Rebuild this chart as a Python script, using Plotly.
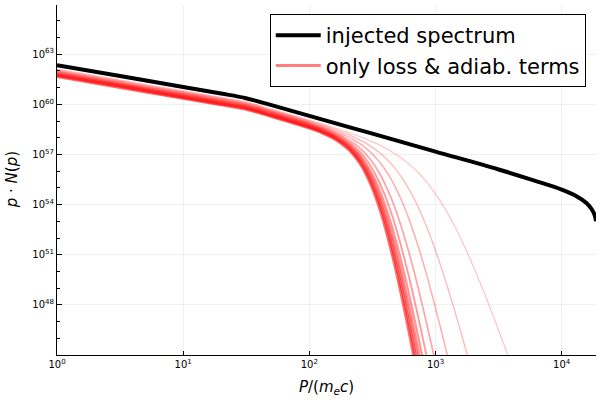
import numpy as np
import plotly.graph_objects as go

# ---- data (log10 values) ----
injected_log10_p = [0, 0.5, 1.0, 1.3, 1.49, 1.7, 2.0, 2.5, 3.0, 3.5, 3.778, 4.0, 4.114, 4.196, 4.238, 4.262, 4.272]
injected_log10_pN = [62.34, 61.69, 61.03, 60.64, 60.38, 59.95, 59.31, 58.24, 57.17, 56.10, 55.45, 54.90, 54.52, 54.10, 53.72, 53.35, 53.00]

red_log10_p = [0, 0.5, 1.0, 1.3, 1.49, 1.7, 2.0, 2.1, 2.2, 2.3, 2.35, 2.4, 2.45, 2.5, 2.55, 2.6, 2.65, 2.7, 2.75,
               2.8, 2.85, 2.9, 2.95, 3.0, 3.05, 3.1, 3.15, 3.2, 3.25, 3.3, 3.35, 3.4, 3.45, 3.5, 3.55, 3.6, 3.65]

loss_curve_0 = [61.66, 61.0, 60.35, 59.96, 59.71, 59.26, 58.57, 58.29, 57.92, 57.37, 56.98, 56.47, 55.81, 54.96, 53.92, 52.67, 51.22, 49.61, 47.86, 46.0, 44.06]
loss_curve_1 = [61.71, 61.06, 60.40, 60.01, 59.76, 59.31, 58.62, 58.34, 57.99, 57.46, 57.08, 56.60, 55.97, 55.17, 54.18, 52.99, 51.60, 50.04, 48.34, 46.53, 44.63, 42.68]
loss_curve_2 = [61.76, 61.11, 60.45, 60.06, 59.81, 59.36, 58.67, 58.40, 58.05, 57.54, 57.18, 56.72, 56.13, 55.37, 54.43, 53.30, 51.97, 50.46, 48.81, 47.04, 45.19, 43.27]
loss_curve_3 = [61.81, 61.16, 60.50, 60.11, 59.86, 59.41, 58.72, 58.45, 58.11, 57.62, 57.28, 56.85, 56.29, 55.58, 54.70, 53.63, 52.37, 50.93, 49.34, 47.63, 45.82, 43.95]
loss_curve_4 = [61.86, 61.2, 60.55, 60.16, 59.91, 59.46, 58.78, 58.51, 58.17, 57.71, 57.39, 56.98, 56.47, 55.81, 55.0, 54.0, 52.82, 51.46, 49.95, 48.31, 46.57, 44.75, 42.87]
loss_curve_5 = [61.91, 61.25, 60.6, 60.21, 59.96, 59.51, 58.83, 58.56, 58.24, 57.81, 57.52, 57.16, 56.71, 56.13, 55.41, 54.53, 53.48, 52.25, 50.87, 49.35, 47.71, 45.99, 44.2]
loss_curve_6 = [61.96, 61.3, 60.65, 60.26, 60.01, 59.56, 58.88, 58.62, 58.32, 57.93, 57.68, 57.38, 57.0, 56.53, 55.95, 55.23, 54.37, 53.34, 52.16, 50.84, 49.4, 47.85, 46.22, 44.53]
loss_curve_7 = [62.01, 61.35, 60.7, 60.31, 60.06, 59.61, 58.94, 58.69, 58.41, 58.08, 57.88, 57.64, 57.36, 57.02, 56.6, 56.1, 55.49, 54.76, 53.91, 52.92, 51.8, 50.57, 49.24, 47.82, 46.33, 44.79, 43.21]
loss_curve_8 = [62.06, 61.4, 60.75, 60.36, 60.11, 59.66, 58.99, 58.76, 58.5, 58.21, 58.05, 57.86, 57.66, 57.42, 57.14, 56.81, 56.42, 55.96, 55.42, 54.78, 54.05, 53.21, 52.28, 51.25, 50.14, 48.95, 47.7, 46.39, 45.05, 43.67]
loss_curve_9 = [62.11, 61.45, 60.8, 60.41, 60.16, 59.71, 59.05, 58.83, 58.59, 58.34, 58.21, 58.07, 57.92, 57.76, 57.59, 57.39, 57.18, 56.94, 56.67, 56.36, 56.01, 55.61, 55.15, 54.64, 54.06, 53.43, 52.73, 51.97, 51.16, 50.3, 49.39, 48.45, 47.48, 46.48, 45.46, 44.42]

loss_curves = [loss_curve_0, loss_curve_1, loss_curve_2, loss_curve_3, loss_curve_4,
               loss_curve_5, loss_curve_6, loss_curve_7, loss_curve_8, loss_curve_9]

x_tick_exps = [0, 1, 2, 3, 4]
y_tick_exps = [48, 51, 54, 57, 60, 63]
y_minor_exps = [45, 46, 47, 49, 50, 52, 53, 55, 56, 58, 59, 61, 62, 64, 65]

fig = go.Figure()
fig.add_trace(go.Scatter(x=np.power(10.0, injected_log10_p), y=np.power(10.0, injected_log10_pN), mode="lines",
                         line=dict(color="black", width=4, shape="spline"), name="injected spectrum"))
fig.add_trace(go.Scatter(x=[None], y=[None], mode="lines", line=dict(color="rgba(255,0,0,0.5)", width=3),
                         name="only loss & adiab. terms"))
for i, v in enumerate(loss_curves):
    a = 0.58 - 0.038 * i
    w = 2.8 - 0.18 * i
    fig.add_trace(go.Scatter(x=np.power(10.0, red_log10_p[:len(v)]), y=np.power(10.0, v), mode="lines",
                             line=dict(color=f"rgba(255,0,0,{a:.3f})", width=w, shape="spline"),
                             showlegend=False, hoverinfo="skip"))

fig.update_layout(width=600, height=400, margin=dict(l=57, r=4, t=5, b=45),
                  paper_bgcolor="white", plot_bgcolor="white",
                  font=dict(family="DejaVu Sans", color="black"),
                  legend=dict(x=0.981, y=0.974, xanchor="right", yanchor="top", bordercolor="black", borderwidth=1,
                              bgcolor="white", font=dict(size=21), itemwidth=45, tracegroupgap=0))
fig.update_xaxes(type="log", range=[0, 4.272], tickvals=[10.0 ** e for e in x_tick_exps],
                 ticktext=[f"10<sup>{e}</sup>" for e in x_tick_exps],
                 ticks="inside", ticklen=4, tickcolor="black", showline=True, linecolor="black", linewidth=1,
                 showgrid=True, gridcolor="rgba(0,0,0,0.06)", zeroline=False, tickfont=dict(size=10))
fig.update_yaxes(type="log", range=[45, 65.94], tickvals=[10.0 ** e for e in y_tick_exps],
                 ticktext=[f"10<sup>{e}</sup>" for e in y_tick_exps],
                 ticks="inside", ticklen=5, tickcolor="black", showline=True, linecolor="black", linewidth=1,
                 showgrid=True, gridcolor="rgba(0,0,0,0.06)", zeroline=False, tickfont=dict(size=10),
                 minor=dict(tickvals=[10.0 ** e for e in y_minor_exps], ticks="inside", ticklen=3,
                            tickcolor="black", showgrid=False))
fig.add_annotation(text="<i>P</i>/(<i>m<sub>e</sub>c</i>)", x=0.5, y=-0.093, xref="paper", yref="paper",
                   showarrow=False, font=dict(size=15), yanchor="middle")
fig.add_annotation(text="<i>p</i> · <i>N</i>(<i>p</i>)", x=-0.083, y=0.5, xref="paper", yref="paper",
                   showarrow=False, font=dict(size=15), textangle=-90, xanchor="center", yanchor="middle")
fig.write_html("out.html", config={"displayModeBar": False},
               post_script="document.body.style.margin='0';document.body.style.overflow='hidden';")
